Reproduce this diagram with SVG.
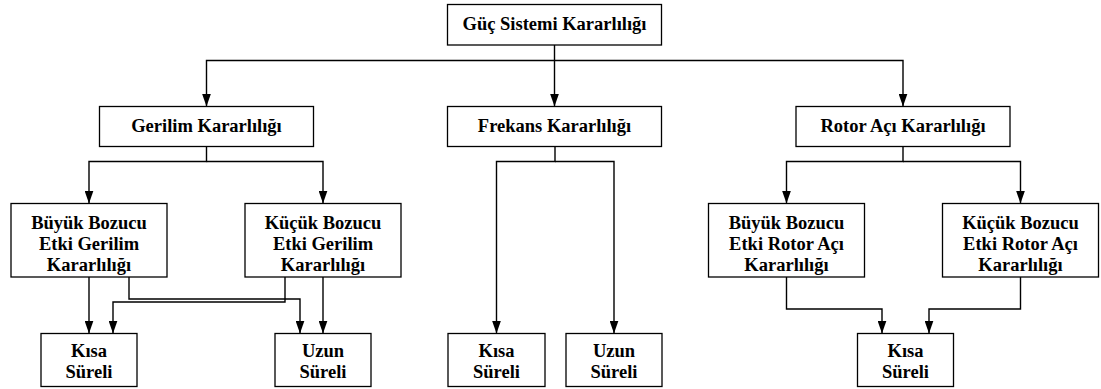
<svg xmlns="http://www.w3.org/2000/svg" width="1101" height="389" viewBox="0 0 1101 389">
<style>
.box{fill:#fff;stroke:#000;stroke-width:1.3}
.t{font-family:"Liberation Serif","Times New Roman",serif;font-weight:bold;font-size:18.5px;text-anchor:middle;fill:#000}
.c{fill:none;stroke:#000;stroke-width:1.4}
</style>
<defs>
<marker id="ah" viewBox="0 0 13 9" refX="13" refY="4.5" markerUnits="userSpaceOnUse" markerWidth="13" markerHeight="9" orient="auto">
<path d="M0,0 L13,4.5 L0,9 z" fill="#000"/>
</marker>
</defs>
<rect width="1101" height="389" fill="#fff"/>
<g id="connectors">
<path class="c" d="M554.5,45 V106.5" marker-end="url(#ah)"/>
<path class="c" d="M554.5,60.5 H206.5 V106.5" marker-end="url(#ah)"/>
<path class="c" d="M554.5,60.5 H903 V106.5" marker-end="url(#ah)"/>
<path class="c" d="M206.5,146.5 V161.5 H89 V203.5" marker-end="url(#ah)"/>
<path class="c" d="M206.5,161.5 H323 V203.5" marker-end="url(#ah)"/>
<path class="c" d="M555,146.5 V161.5 H496.5 V333.5" marker-end="url(#ah)"/>
<path class="c" d="M555,161.5 H614 V333.5" marker-end="url(#ah)"/>
<path class="c" d="M903,146.5 V161.5 H786.5 V203.5" marker-end="url(#ah)"/>
<path class="c" d="M903,161.5 H1020.5 V203.5" marker-end="url(#ah)"/>
<path class="c" d="M89,277 V333.5" marker-end="url(#ah)"/>
<path class="c" d="M129,277 V299 H300 V333.5" marker-end="url(#ah)"/>
<path class="c" d="M285,277 V302 H113 V333.5" marker-end="url(#ah)"/>
<path class="c" d="M323,277 V333.5" marker-end="url(#ah)"/>
<path class="c" d="M786.5,277 V309 H882 V333.5" marker-end="url(#ah)"/>
<path class="c" d="M1020.5,277 V309 H929 V333.5" marker-end="url(#ah)"/>
</g>
<g id="n-guc"><rect class="box" x="447.5" y="4.5" width="214" height="40.5"/><text class="t" x="554.5" y="30">Güç Sistemi Kararlılığı</text></g>
<g id="n-gerilim"><rect class="box" x="99.5" y="106.5" width="214" height="40"/><text class="t" x="206.5" y="131.5">Gerilim Kararlılığı</text></g>
<g id="n-frekans"><rect class="box" x="447.5" y="106.5" width="214" height="40"/><text class="t" x="554.5" y="131.5">Frekans Kararlılığı</text></g>
<g id="n-rotor"><rect class="box" x="796" y="106.5" width="214" height="40"/><text class="t" x="903" y="131.5">Rotor Açı Kararlılığı</text></g>
<g id="n-buyuk-g"><rect class="box" x="11" y="203.5" width="156" height="73.5"/><text class="t" x="89" y="228.5">Büyük Bozucu</text><text class="t" x="89" y="249.5">Etki Gerilim</text><text class="t" x="89" y="270.5">Kararlılığı</text></g>
<g id="n-kucuk-g"><rect class="box" x="245" y="203.5" width="156" height="73.5"/><text class="t" x="323" y="228.5">Küçük Bozucu</text><text class="t" x="323" y="249.5">Etki Gerilim</text><text class="t" x="323" y="270.5">Kararlılığı</text></g>
<g id="n-buyuk-r"><rect class="box" x="708.5" y="203.5" width="156" height="73.5"/><text class="t" x="786.5" y="228.5">Büyük Bozucu</text><text class="t" x="786.5" y="249.5">Etki Rotor Açı</text><text class="t" x="786.5" y="270.5">Kararlılığı</text></g>
<g id="n-kucuk-r"><rect class="box" x="942.5" y="203.5" width="156" height="73.5"/><text class="t" x="1020.5" y="228.5">Küçük Bozucu</text><text class="t" x="1020.5" y="249.5">Etki Rotor Açı</text><text class="t" x="1020.5" y="270.5">Kararlılığı</text></g>
<g id="n-kisa-g"><rect class="box" x="41" y="333.5" width="96" height="53"/><text class="t" x="89" y="356.5">Kısa</text><text class="t" x="89" y="378">Süreli</text></g>
<g id="n-uzun-g"><rect class="box" x="275" y="333.5" width="96" height="53"/><text class="t" x="323" y="356.5">Uzun</text><text class="t" x="323" y="378">Süreli</text></g>
<g id="n-kisa-f"><rect class="box" x="448" y="333.5" width="97" height="53"/><text class="t" x="496.5" y="356.5">Kısa</text><text class="t" x="496.5" y="378">Süreli</text></g>
<g id="n-uzun-f"><rect class="box" x="566" y="333.5" width="96" height="53"/><text class="t" x="614" y="356.5">Uzun</text><text class="t" x="614" y="378">Süreli</text></g>
<g id="n-kisa-r"><rect class="box" x="857.5" y="333.5" width="96" height="53"/><text class="t" x="905.5" y="356.5">Kısa</text><text class="t" x="905.5" y="378">Süreli</text></g>
</svg>
